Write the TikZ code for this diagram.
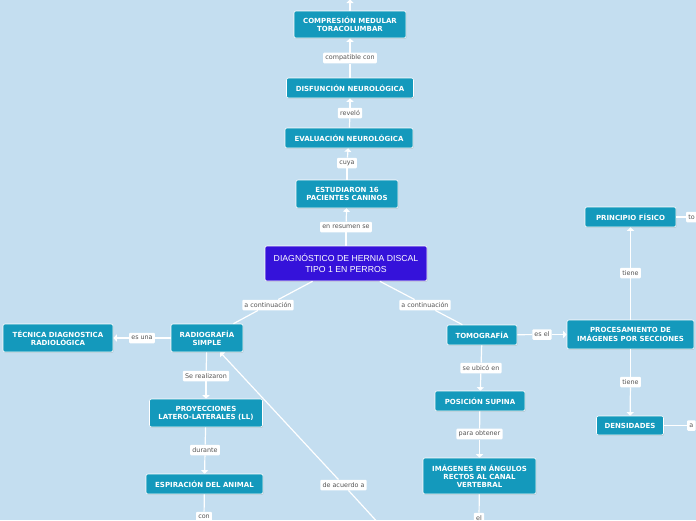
\documentclass[tikz,border=0pt]{standalone}
\usepackage{fontspec}
\setmainfont{DejaVu Sans}
\newfontfamily\mainfnt{Liberation Sans}
\usetikzlibrary{arrows.meta,shadows}
\definecolor{bg}{HTML}{C4DEF0}
\definecolor{boxteal}{HTML}{1499BC}
\definecolor{mainblue}{HTML}{3512DA}
\definecolor{lbltext}{HTML}{555555}
\begin{document}
\begin{tikzpicture}[x=1pt,y=-1pt,
  box/.style={draw=white, line width=0.6pt, fill=boxteal, rounded corners=2pt,
    text=white, font=\fontsize{7}{8.2}\selectfont\bfseries, align=center, inner sep=1pt,
    drop shadow={shadow xshift=0.6pt, shadow yshift=-0.8pt, opacity=0.3}},
  mainbox/.style={box, fill=mainblue, font=\mainfnt\fontsize{8.7}{10.5}\selectfont},
  lbl/.style={fill=white, rounded corners=1pt, text=lbltext,
    font=\fontsize{6.4}{7}\selectfont, inner sep=2.2pt, minimum height=10.5pt},
  conn/.style={draw=white, line width=1.2pt},
  arr/.style={conn, -{Triangle[width=7pt,length=3.5pt]}}]
\fill[bg] (0,0) rectangle (696,520);
\useasboundingbox (0,0) rectangle (696,520);
\clip (0,0) rectangle (696,520);

% boxes
\node[box, minimum width=112pt, minimum height=27pt] (comp) at (350,24.5) {COMPRESIÓN MEDULAR\\TORACOLUMBAR};
\node[box, minimum width=127pt, minimum height=20pt] (disf) at (350,88) {DISFUNCIÓN NEUROLÓGICA};
\node[box, minimum width=128pt, minimum height=20pt] (eval) at (349,138) {EVALUACIÓN NEUROLÓGICA};
\node[box, minimum width=102pt, minimum height=28pt] (estu) at (347,194) {ESTUDIARON 16\\PACIENTES CANINOS};
\node[mainbox, minimum width=162pt, minimum height=35pt] (main) at (346,263.5) {DIAGNÓSTICO DE HERNIA DISCAL\\TIPO 1 EN PERROS};
\node[box, minimum width=72pt, minimum height=28pt] (radio) at (207,338) {RADIOGRAFÍA\\SIMPLE};
\node[box, minimum width=110pt, minimum height=28pt] (tecn) at (58,338) {TÉCNICA DIAGNOSTICA\\RADIOLÓGICA};
\node[box, minimum width=113pt, minimum height=28pt] (proy) at (206,413) {PROYECCIONES\\LATERO-LATERALES (LL)};
\node[box, minimum width=117pt, minimum height=20pt] (espi) at (204.5,484) {ESPIRACIÓN DEL ANIMAL};
\node[box, minimum width=70pt, minimum height=20pt] (tomo) at (482,335) {TOMOGRAFÍA};
\node[box, minimum width=127pt, minimum height=29pt] (proc) at (630.5,334.5) {PROCESAMIENTO DE\\IMÁGENES POR SECCIONES};
\node[box, minimum width=91pt, minimum height=20pt] (prin) at (630.5,217) {PRINCIPIO FÍSICO};
\node[box, minimum width=67pt, minimum height=19pt] (dens) at (630,425.5) {DENSIDADES};
\node[box, minimum width=90pt, minimum height=20pt] (posi) at (480,401) {POSICIÓN SUPINA};
\node[box, minimum width=113pt, minimum height=36pt] (imag) at (479.5,476) {IMÁGENES EN ÁNGULOS\\RECTOS AL CANAL\\VERTEBRAL};

% labels
\node[lbl] (l1) at (350,58) {compatible con};
\node[lbl] (l2) at (350,113) {reveló};
\node[lbl] (l3) at (347,163) {cuya};
\node[lbl] (l4) at (346,227) {en resumen se};
\node[lbl] (l5) at (268,305) {a continuación};
\node[lbl] (l6) at (425,305) {a continuación};
\node[lbl] (l7) at (142,338) {es una};
\node[lbl] (l8) at (206,376) {Se realizaron};
\node[lbl] (l9) at (205,450) {durante};
\node[lbl] (l10) at (204,517) {con};
\node[lbl] (l11) at (343.5,485) {de acuerdo a};
\node[lbl] (l12) at (542,334.5) {es el};
\node[lbl] (l13) at (481,368) {se ubicó en};
\node[lbl] (l14) at (479.5,434) {para obtener};
\node[lbl] (l15) at (479,518) {el};
\node[lbl] (l16) at (630.5,273) {tiene};
\node[lbl] (l17) at (630.5,382) {tiene};
\node[lbl, anchor=west] (l18) at (686,217) {to};
\node[lbl, anchor=west] (l19) at (687,425.5) {a};

% free ends
\coordinate (topend) at (350,-0.5);
\coordinate (offd) at (392,538);

% connectors
\draw[arr] (comp) -- (topend);
\draw[conn] (disf) -- (l1); \draw[arr] (l1) -- (comp);
\draw[conn] (eval) -- (l2); \draw[arr] (l2) -- (disf);
\draw[conn] (estu) -- (l3); \draw[arr] (l3) -- (eval);
\draw[conn] (main) -- (l4); \draw[arr] (l4) -- (estu);
\draw[conn] (main) -- (l5); \draw[conn] (l5) -- (radio);
\draw[conn] (main) -- (l6); \draw[conn] (l6) -- (tomo);
\draw[conn] (radio) -- (l7); \draw[arr] (l7) -- (tecn);
\draw[conn] (radio) -- (l8); \draw[arr] (l8) -- (proy);
\draw[conn] (proy) -- (l9); \draw[arr] (l9) -- (espi);
\draw[conn] (espi) -- (l10);
\draw[conn] (offd) -- (l11); \draw[arr] (l11) -- (radio);
\draw[conn] (tomo) -- (l12); \draw[arr] (l12) -- (proc);
\draw[conn] (tomo) -- (l13); \draw[arr] (l13) -- (posi);
\draw[conn] (posi) -- (l14); \draw[arr] (l14) -- (imag);
\draw[conn] (imag) -- (l15);
\draw[conn] (proc) -- (l16); \draw[arr] (l16) -- (prin);
\draw[conn] (proc) -- (l17); \draw[arr] (l17) -- (dens);
\draw[conn] (prin) -- (l18);
\draw[conn] (dens) -- (l19);
\end{tikzpicture}
\end{document}
